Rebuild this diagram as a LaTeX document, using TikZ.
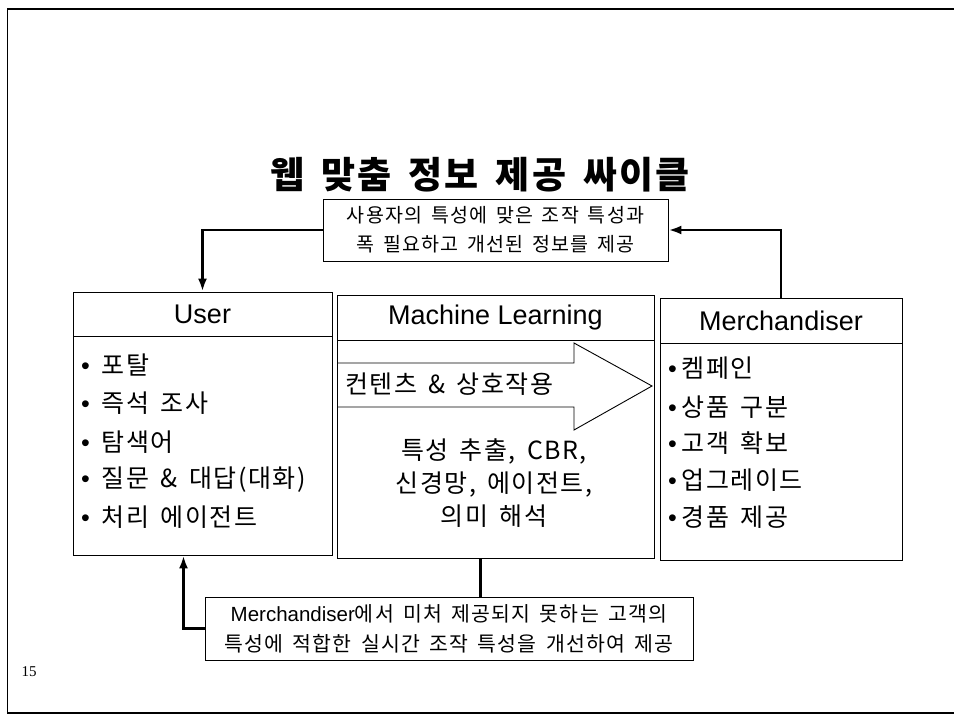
\documentclass[tikz,border=0pt]{standalone}
\usepackage{fontspec}
\setmainfont{Liberation Sans}
\newfontfamily\kr[WordSpace=1.6,LetterSpace=6]{Noto Sans CJK KR}
\newfontfamily\pagefont{Liberation Serif}
\usetikzlibrary{arrows.meta}

\begin{document}
\begin{tikzpicture}[x=1pt,y=-1pt]
            \tikzset{
            wc box/.style={draw,line width=0.9pt,inner sep=0},
            wc head/.style={draw,line width=0.9pt,inner sep=0,font=\fontsize{27}{30}\selectfont},
            wc item/.style={anchor=west,inner sep=0,font=\fontsize{25}{27}\selectfont},
            wc note/.style={draw,line width=0.9pt,inner sep=0,align=center},
            wc link/.style={line width=2.6pt,-{Latex[length=13pt,width=9pt]}}
            }
            \useasboundingbox (0,0) rectangle (954,722);
            \clip (0,0) rectangle (954,722);
            % frame (right side runs off the page)
            \draw[line width=2pt] (7,9) -- (960,9);
            \draw[line width=1pt] (7,9) -- (7,713);
            \draw[line width=2pt] (7,713) -- (960,713);

            \node[font=\kr\bfseries\fontsize{37}{40}\selectfont] (title) at (480,175) {웹 맞춤 정보 제공 싸이클};

            % three columns
            \node[wc box,minimum width=259pt,minimum height=263pt] (user) at (202.5,423.5) {};
            \node[wc head,anchor=north,minimum width=259pt,minimum height=44pt] (userhead) at (user.north) {User};
            \node[wc box,minimum width=317pt,minimum height=263pt] (ml) at (495.5,426.5) {};
            \node[wc head,anchor=north,minimum width=317pt,minimum height=45pt] (mlhead) at (ml.north) {Machine Learning};
            \node[wc box,minimum width=242pt,minimum height=262pt] (merch) at (781,429) {};
            \node[wc head,anchor=north,minimum width=242pt,minimum height=45pt] (merchhead) at (merch.north) {Merchandiser};

            \node[wc item] (user1) at (81,365) {•\hspace{12pt}{\kr 포탈}};
            \node[wc item] (user2) at (81,403) {•\hspace{12pt}{\kr 즉석 조사}};
            \node[wc item] (user3) at (81,442) {•\hspace{12pt}{\kr 탐색어}};
            \node[wc item] (user4) at (81,480) {•\hspace{12pt}{\kr 질문 \& 대답(대화)}};
            \node[wc item] (user5) at (81,517) {•\hspace{12pt}{\kr 처리 에이전트}};

            \node[wc item] (merch1) at (668,368) {•\hspace{5pt}{\kr 켐페인}};
            \node[wc item] (merch2) at (668,407) {•\hspace{5pt}{\kr 상품 구분}};
            \node[wc item] (merch3) at (668,443) {•\hspace{5pt}{\kr 고객 확보}};
            \node[wc item] (merch4) at (668,480) {•\hspace{5pt}{\kr 업그레이드}};
            \node[wc item] (merch5) at (668,517) {•\hspace{5pt}{\kr 경품 제공}};

            % big hollow arrow inside the middle column
            \draw[line width=0.9pt] (337,363) -- (574,363) -- (574,343) -- (652,386) -- (574,430) -- (574,407) -- (337,407);
            \node[wc item] (flow) at (345,384) {\kr 컨텐츠 \& 상호작용};
            \node[align=center,inner sep=0,font=\kr\fontsize{25}{33}\selectfont] (method) at (494,483) {특성 추출, CBR,\\신경망, 에이전트,\\의미 해석};

            % feedback notes
            \node[wc note,font=\kr\fontsize{19.5}{29}\selectfont,minimum width=345pt,minimum height=62pt] (info) at (495.5,230) {사용자의 특성에 맞은 조작 특성과\\폭 필요하고 개선된 정보를 제공};
            \node[wc note,font=\kr\fontsize{20.5}{30}\selectfont,minimum width=488pt,minimum height=63pt] (note) at (449,628.5) {{\fontspec{Liberation Sans}Merchandiser}에서 미처 제공되지 못하는 고객의\\특성에 적합한 실시간 조작 특성을 개선하여 제공};

            \draw[wc link] (info.west) -| (userhead.north);
            \draw[wc link] (merchhead.north) |- (info.east);
            \draw[wc link] (note.west) -| ([xshift=-19pt]user.south);
            \draw[line width=2.6pt] ([xshift=-15pt]ml.south) -- ([xshift=-15pt]ml.south |- note.north);

            \node[font=\pagefont\fontsize{15}{17}\selectfont] (page) at (29,672) {15};
        \end{tikzpicture}
\end{document}
